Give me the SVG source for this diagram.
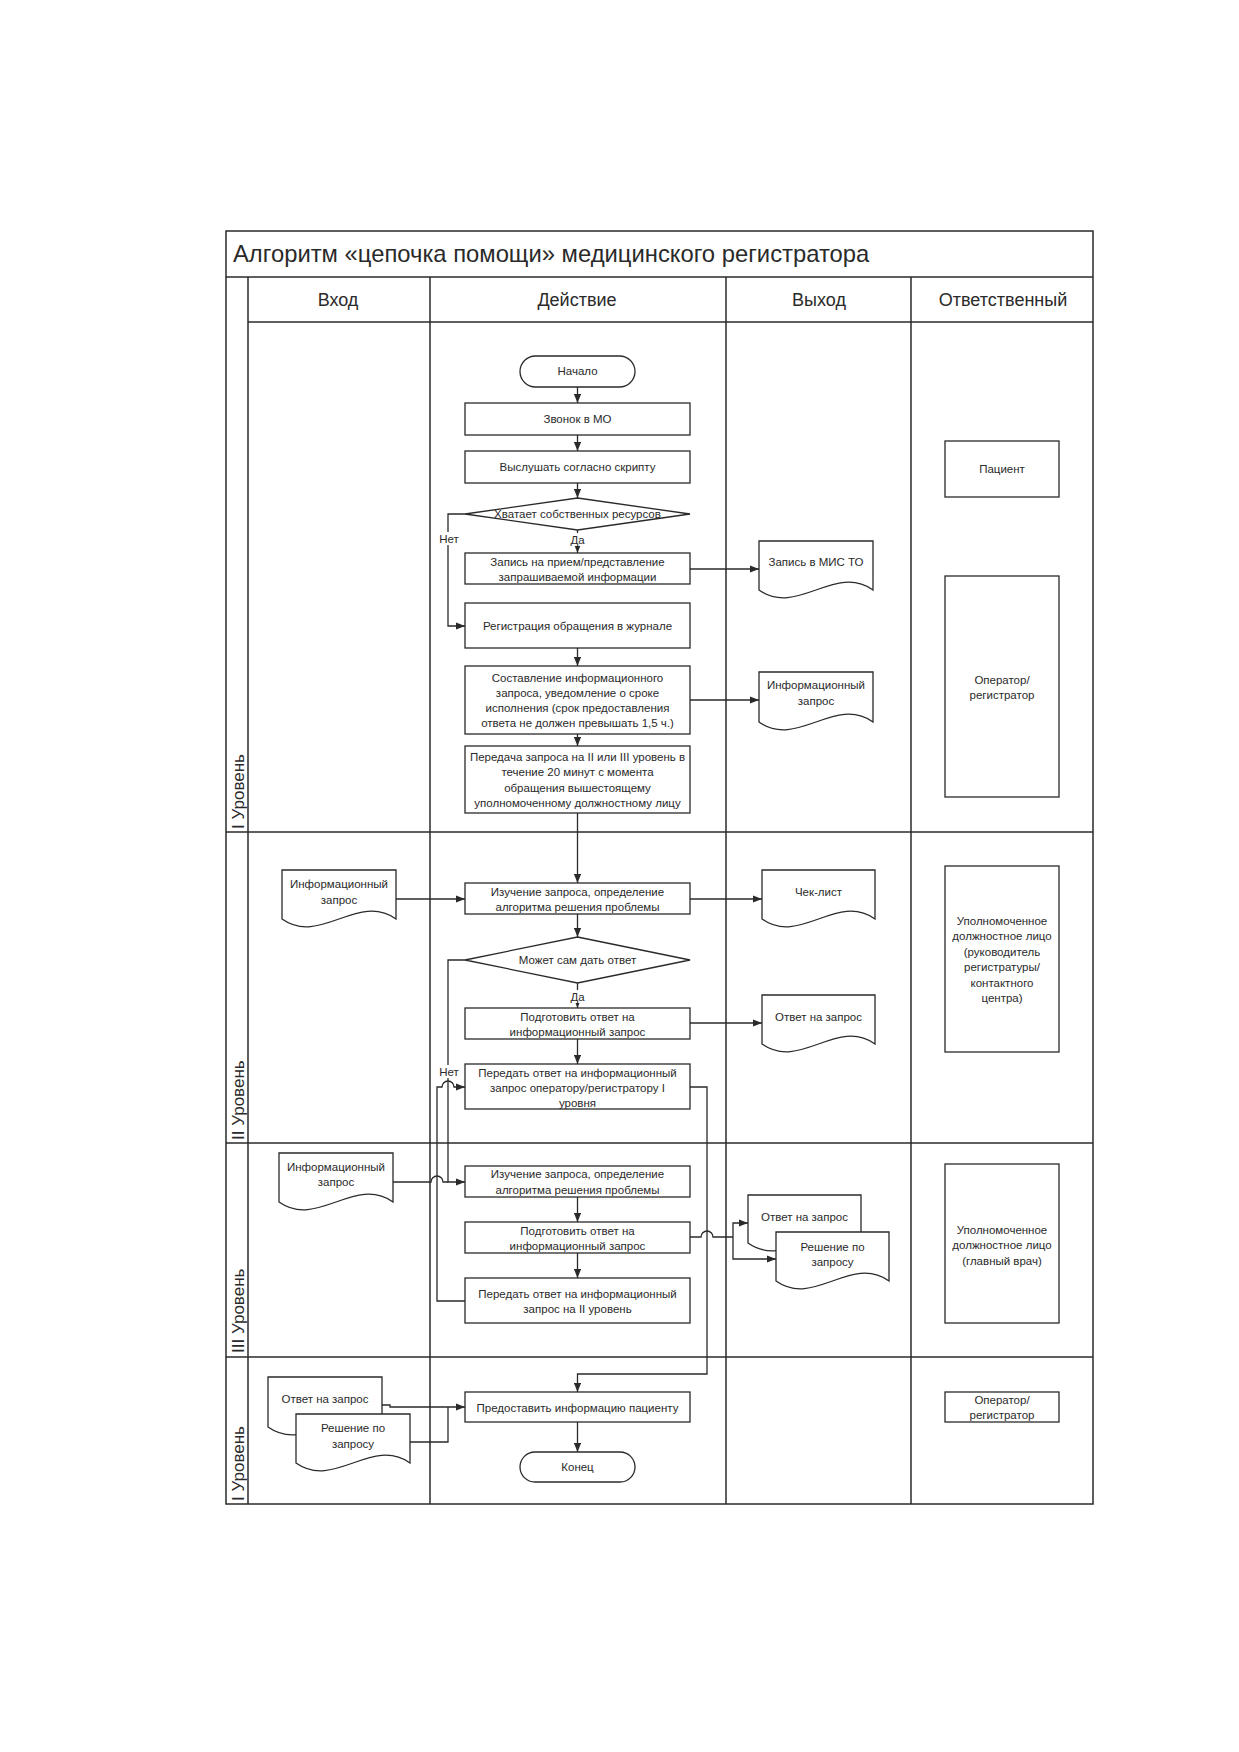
<svg xmlns="http://www.w3.org/2000/svg" width="1239" height="1752" viewBox="0 0 1239 1752">
<style>
.fr{fill:none;stroke:#2a2a2a;stroke-width:1.5}
.bx{fill:#fff;stroke:#2a2a2a;stroke-width:1.3}
.ln{fill:none;stroke:#2a2a2a;stroke-width:1.3}
.ar{fill:none;stroke:#2a2a2a;stroke-width:1.3;marker-end:url(#ah)}
.t{font-family:"Liberation Sans",Arial,sans-serif;font-size:11.5px;fill:#2a2a2a;text-anchor:middle}
.h{font-family:"Liberation Sans",Arial,sans-serif;font-size:18px;fill:#2a2a2a;text-anchor:middle}
.ttl{font-family:"Liberation Sans",Arial,sans-serif;font-size:23.8px;fill:#2a2a2a}
.lane{font-family:"Liberation Sans",Arial,sans-serif;font-size:17px;fill:#2a2a2a}
.lbl{fill:#fff;stroke:none}
</style>
<defs>
<marker id="ah" viewBox="0 0 10 8" refX="10" refY="4" markerWidth="9" markerHeight="7.5" markerUnits="userSpaceOnUse" orient="auto">
<path d="M0,0 L10,4 L0,8 Z" fill="#2a2a2a"/>
</marker>
</defs>
<rect width="1239" height="1752" fill="#fff"/>

<g id="frame">
<rect class="fr" x="226" y="231" width="867" height="1273"/>
<line class="fr" x1="226" y1="277" x2="1093" y2="277"/>
<line class="fr" x1="248" y1="322" x2="1093" y2="322"/>
<line class="fr" x1="248" y1="277" x2="248" y2="1504"/>
<line class="fr" x1="430" y1="277" x2="430" y2="1504"/>
<line class="fr" x1="726" y1="277" x2="726" y2="1504"/>
<line class="fr" x1="911" y1="277" x2="911" y2="1504"/>
<line class="fr" x1="226" y1="832" x2="1093" y2="832"/>
<line class="fr" x1="226" y1="1143" x2="1093" y2="1143"/>
<line class="fr" x1="226" y1="1357" x2="1093" y2="1357"/>
<text class="ttl" x="233" y="262">Алгоритм «цепочка помощи» медицинского регистратора</text>
<text class="h" x="338" y="306">Вход</text>
<text class="h" x="577" y="306">Действие</text>
<text class="h" x="819" y="306">Выход</text>
<text class="h" x="1003" y="306">Ответственный</text>
<text class="lane" transform="translate(244,829) rotate(-90)">I Уровень</text>
<text class="lane" transform="translate(244,1140) rotate(-90)">II Уровень</text>
<text class="lane" transform="translate(244,1353) rotate(-90)">III Уровень</text>
<text class="lane" transform="translate(244,1501) rotate(-90)">I Уровень</text>
</g>

<g id="connectors">
<path class="ar" d="M577.5,387 V403"/>
<path class="ar" d="M577.5,435 V451"/>
<path class="ar" d="M577.5,483 V498"/>
<path class="ar" d="M577.5,530 V553"/>
<path class="ar" d="M465,514 H448 V626 H465"/>
<path class="ar" d="M690,569 H759"/>
<path class="ar" d="M577.5,648 V666"/>
<path class="ar" d="M690,700 H759"/>
<path class="ar" d="M577.5,734 V746"/>
<path class="ar" d="M577.5,813 V883"/>
<path class="ar" d="M396,899 H465"/>
<path class="ar" d="M690,899 H762"/>
<path class="ar" d="M577.5,914 V937"/>
<path class="ar" d="M577.5,983 V1008"/>
<path class="ar" d="M690,1023 H762"/>
<path class="ar" d="M577.5,1039 V1064"/>
<path class="ar" d="M465,960 H448 V1182 H465"/>
<path class="ln" d="M393,1182 H431 A6,6 0 0 1 443,1182 H448"/>
<path class="ar" d="M577.5,1197 V1222"/>
<path class="ar" d="M577.5,1253 V1278"/>
<path class="ar" d="M465,1301 H437 V1087 H442 A6,6 0 0 1 454,1087 H465"/>
<path class="ar" d="M690,1087 H707 V1374 H577.5 V1392"/>
<path class="ln" d="M690,1237 H701 A6,6 0 0 1 713,1237 H733"/>
<path class="ar" d="M733,1237 V1223 H748"/>
<path class="ar" d="M733,1237 V1259 H776"/>
<path class="ar" d="M382,1405 H390 V1407 H465"/>
<path class="ln" d="M410,1442 H448 V1407"/>
<path class="ar" d="M577.5,1422 V1452"/>
<rect class="lbl" x="568" y="533" width="19" height="13"/>
<text class="t" x="577.5" y="544">Да</text>
<rect class="lbl" x="438" y="532" width="22" height="13"/>
<text class="t" x="449" y="543">Нет</text>
<rect class="lbl" x="568" y="990" width="19" height="13"/>
<text class="t" x="577.5" y="1001">Да</text>
<rect class="lbl" x="438" y="1065" width="22" height="13"/>
<text class="t" x="449" y="1076">Нет</text>
</g>

<g id="n-start"><rect class="bx" x="520" y="356" width="115" height="31" rx="15.5"/><text class="t" x="577.5" y="375">Начало</text></g>
<g id="n-call"><rect class="bx" x="465" y="403" width="225" height="32"/><text class="t" x="577.5" y="423">Звонок в МО</text></g>
<g id="n-listen"><rect class="bx" x="465" y="451" width="225" height="32"/><text class="t" x="577.5" y="471">Выслушать согласно скрипту</text></g>
<g id="n-dec1"><polygon class="bx" points="577.5,498 690,514 577.5,530 465,514"/><text class="t" x="577.5" y="518">Хватает собственных ресурсов</text></g>
<g id="n-record"><rect class="bx" x="465" y="553" width="225" height="31"/><text class="t" x="577.5" y="566">Запись на прием/представление</text><text class="t" x="577.5" y="581">запрашиваемой информации</text></g>
<g id="n-reg"><rect class="bx" x="465" y="603" width="225" height="45"/><text class="t" x="577.5" y="630">Регистрация обращения в журнале</text></g>
<g id="n-compose"><rect class="bx" x="465" y="666" width="225" height="68"/><text class="t" x="577.5" y="682">Составление информационного</text><text class="t" x="577.5" y="697">запроса, уведомление о сроке</text><text class="t" x="577.5" y="712">исполнения (срок предоставления</text><text class="t" x="577.5" y="727">ответа не должен превышать 1,5 ч.)</text></g>
<g id="n-transfer"><rect class="bx" x="465" y="746" width="225" height="67"/><text class="t" x="577.5" y="761">Передача запроса на II или III уровень в</text><text class="t" x="577.5" y="776">течение 20 минут с момента</text><text class="t" x="577.5" y="792">обращения вышестоящему</text><text class="t" x="577.5" y="807">уполномоченному должностному лицу</text></g>

<g id="o-mis"><path class="bx" d="M759,541 H873 V590 C835,563 797,617 759,590 Z"/><text class="t" x="816" y="566">Запись в МИС ТО</text></g>
<g id="o-inforeq"><path class="bx" d="M759,672 H873 V722 C835,695 797,749 759,722 Z"/><text class="t" x="816" y="689">Информационный</text><text class="t" x="816" y="705">запрос</text></g>

<g id="r-patient"><rect class="bx" x="945" y="441" width="114" height="56"/><text class="t" x="1002" y="473">Пациент</text></g>
<g id="r-operator1"><rect class="bx" x="945" y="576" width="114" height="221"/><text class="t" x="1002" y="684">Оператор/</text><text class="t" x="1002" y="699">регистратор</text></g>

<g id="i-inforeq2"><path class="bx" d="M282,870 H396 V919 C358,892 320,946 282,919 Z"/><text class="t" x="339" y="888">Информационный</text><text class="t" x="339" y="904">запрос</text></g>
<g id="n-study2"><rect class="bx" x="465" y="883" width="225" height="31"/><text class="t" x="577.5" y="896">Изучение запроса, определение</text><text class="t" x="577.5" y="911">алгоритма решения проблемы</text></g>
<g id="n-dec2"><polygon class="bx" points="577.5,937 690,960 577.5,983 465,960"/><text class="t" x="577.5" y="964">Может сам дать ответ</text></g>
<g id="n-prep2"><rect class="bx" x="465" y="1008" width="225" height="31"/><text class="t" x="577.5" y="1021">Подготовить ответ на</text><text class="t" x="577.5" y="1036">информационный запрос</text></g>
<g id="n-pass2"><rect class="bx" x="465" y="1064" width="225" height="45"/><text class="t" x="577.5" y="1077">Передать ответ на информационный</text><text class="t" x="577.5" y="1092">запрос оператору/регистратору I</text><text class="t" x="577.5" y="1107">уровня</text></g>
<g id="o-check"><path class="bx" d="M762,870 H875 V919 C837,892 800,946 762,919 Z"/><text class="t" x="818.5" y="896">Чек-лист</text></g>
<g id="o-answer2"><path class="bx" d="M762,995 H875 V1044 C837,1017 800,1071 762,1044 Z"/><text class="t" x="818.5" y="1021">Ответ на запрос</text></g>
<g id="r-official2"><rect class="bx" x="945" y="866" width="114" height="186"/><text class="t" x="1002" y="925">Уполномоченное</text><text class="t" x="1002" y="940">должностное лицо</text><text class="t" x="1002" y="956">(руководитель</text><text class="t" x="1002" y="971">регистратуры/</text><text class="t" x="1002" y="987">контактного</text><text class="t" x="1002" y="1002">центра)</text></g>

<g id="i-inforeq3"><path class="bx" d="M279,1153 H393 V1202 C355,1175 317,1229 279,1202 Z"/><text class="t" x="336" y="1171">Информационный</text><text class="t" x="336" y="1186">запрос</text></g>
<g id="n-study3"><rect class="bx" x="465" y="1166" width="225" height="31"/><text class="t" x="577.5" y="1178">Изучение запроса, определение</text><text class="t" x="577.5" y="1194">алгоритма решения проблемы</text></g>
<g id="n-prep3"><rect class="bx" x="465" y="1222" width="225" height="31"/><text class="t" x="577.5" y="1235">Подготовить ответ на</text><text class="t" x="577.5" y="1250">информационный запрос</text></g>
<g id="n-pass3"><rect class="bx" x="465" y="1278" width="225" height="45"/><text class="t" x="577.5" y="1298">Передать ответ на информационный</text><text class="t" x="577.5" y="1313">запрос на II уровень</text></g>
<g id="o-answer3"><path class="bx" d="M748,1195 H861 V1243 C823,1216 786,1270 748,1243 Z"/><text class="t" x="804.5" y="1221">Ответ на запрос</text></g>
<g id="o-decision3"><path class="bx" d="M776,1232 H889 V1281 C851,1254 814,1308 776,1281 Z"/><text class="t" x="832.5" y="1251">Решение по</text><text class="t" x="832.5" y="1266">запросу</text></g>
<g id="r-official3"><rect class="bx" x="945" y="1164" width="114" height="159"/><text class="t" x="1002" y="1234">Уполномоченное</text><text class="t" x="1002" y="1249">должностное лицо</text><text class="t" x="1002" y="1265">(главный врач)</text></g>

<g id="i-answer4"><path class="bx" d="M268,1377 H382 V1427 C344,1400 306,1454 268,1427 Z"/><text class="t" x="325" y="1403">Ответ на запрос</text></g>
<g id="i-decision4"><path class="bx" d="M296,1414 H410 V1463 C372,1436 334,1490 296,1463 Z"/><text class="t" x="353" y="1432">Решение по</text><text class="t" x="353" y="1448">запросу</text></g>
<g id="n-provide"><rect class="bx" x="465" y="1392" width="225" height="30"/><text class="t" x="577.5" y="1412">Предоставить информацию пациенту</text></g>
<g id="n-end"><rect class="bx" x="520" y="1452" width="115" height="30" rx="15"/><text class="t" x="577.5" y="1471">Конец</text></g>
<g id="r-operator4"><rect class="bx" x="945" y="1392" width="114" height="30"/><text class="t" x="1002" y="1404">Оператор/</text><text class="t" x="1002" y="1419">регистратор</text></g>
</svg>
